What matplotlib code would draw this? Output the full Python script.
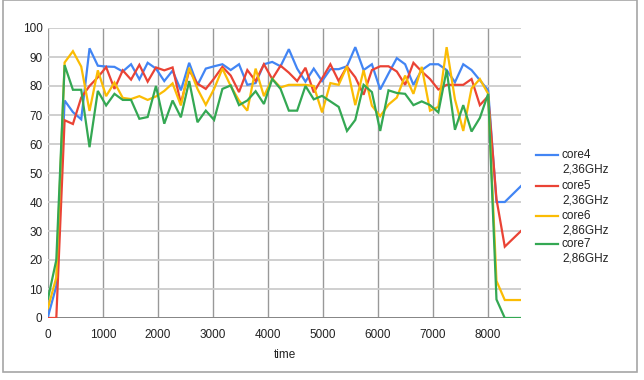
import matplotlib
matplotlib.use('Agg')
import matplotlib.pyplot as plt
from matplotlib.lines import Line2D
from matplotlib.patches import Rectangle

plt.rcParams['font.family'] = ['Liberation Sans', 'DejaVu Sans']

# time axis (samples)
time = [0, 151, 302, 453, 604, 755, 906, 1057, 1208, 1359, 1510, 1661, 1812, 1963,
        2114, 2265, 2416, 2567, 2718, 2869, 3020, 3171, 3322, 3473, 3624, 3775, 3926,
        4077, 4228, 4379, 4530, 4681, 4832, 4983, 5134, 5285, 5436, 5587, 5738, 5889,
        6040, 6191, 6342, 6493, 6644, 6795, 6946, 7097, 7248, 7399, 7550, 7701, 7852,
        8003, 8154, 8305, 8600]

core4 = [0.5, 11, 75, 71, 68.5, 93, 87, 86.7, 86.6, 85, 87.5, 82.3, 88, 86, 81.7,
         85.3, 78.5, 88, 80.3, 86, 86.8, 87.5, 85.5, 87.5, 80.4, 81, 87.5, 88.3, 86.8,
         92.7, 86, 81.5, 86, 81.7, 85.8, 85.8, 86.8, 93.4, 85.5, 87.5, 78.8, 84.3, 89.6,
         87.5, 80.4, 85.5, 87.5, 87.5, 85.5, 81.3, 87.5, 85.5, 82, 78.5, 40, 40, 45.5]
core5 = [0, 0, 68.2, 66.9, 76, 80, 83, 86.5, 79, 85.4, 82.2, 87.3, 81.5, 86.4, 85.4,
         86.4, 74, 85.4, 80.8, 79, 82.6, 86.6, 83.6, 77.9, 85.5, 81.7, 87.5, 82.4, 87,
         84.6, 81.7, 86.3, 77.8, 82.6, 87.5, 81.7, 86.7, 83, 77, 85.5, 86.8, 86.8, 85,
         80.4, 88, 85, 82.4, 78.8, 80.4, 80.4, 80.4, 82.4, 73.4, 76.5, 41, 24.6, 30]
core6 = [3.5, 14, 88.1, 92, 86.7, 71.4, 85.4, 76.5, 81.2, 75.9, 75.5, 76.5, 75.2, 76.4,
         78.3, 80.9, 73.3, 86.3, 79, 73.5, 79, 86, 80, 75, 71.5, 86, 76.5, 82.5, 79.5,
         80.4, 80.4, 80.4, 80, 70.9, 81, 80.4, 86.8, 73.4, 85.5, 73.2, 69.6, 73.6, 76,
         83.6, 77.3, 86.6, 71.5, 72.8, 93.4, 75.4, 64.5, 79.2, 82.4, 77.3, 12.8, 6.2, 6.2]
core7 = [6.7, 20, 87.2, 78.7, 78.7, 58.9, 78.3, 73.3, 77.3, 75.2, 75.2, 68.7, 69.3, 80,
         67, 75, 69.2, 81.7, 67.5, 71.5, 68.3, 79, 80.2, 73.4, 75, 78.2, 73.8, 82.4, 79,
         71.5, 71.5, 80, 75.4, 76.6, 74.7, 72.8, 64.5, 68.3, 80.4, 77.9, 64.5, 78.5, 77.6,
         77.3, 73.4, 74.7, 73.4, 70.9, 85.5, 64.9, 73.4, 64.3, 69, 77.3, 6.4, 0, 0]

series = [core4, core5, core6, core7]
labels = ['core4\n2,36GHz', 'core5\n2,36GHz', 'core6\n2,86GHz', 'core7\n2,86GHz']
colors = ['#4285F4', '#EA4335', '#FBBC04', '#34A853']

W, H = 644, 380
fig = plt.figure(figsize=(W / 100, H / 100), dpi=100)

# outer frame
fig.add_artist(Rectangle((3 / W, 1 - 372 / H), 634 / W, 372 / H, transform=fig.transFigure,
                         fill=False, ec='#a6a6a6', lw=1.2))

ax = fig.add_axes([48 / W, 1 - 318 / H, (521 - 48) / W, (318 - 28) / H])

for s, c in zip(series, colors):
    ax.plot(time, s, color=c, lw=1.6, solid_joinstyle='miter', zorder=3)

ax.set_xlim(0, time[-1])
ax.set_ylim(0, 100)
ax.set_yticks(range(0, 101, 10))
ax.set_xticks(range(0, 8001, 1000))
ax.grid(axis='y', color='#cccccc', lw=1.3, zorder=0)
ax.grid(axis='x', color='#999999', lw=1.0, zorder=0)
ax.axhline(0, color='#808080', lw=1.3, zorder=2)
for sp in ax.spines.values():
    sp.set_visible(False)
ax.tick_params(length=0, labelsize=8.5, colors='#222222')
ax.tick_params(axis='y', pad=4)
ax.tick_params(axis='x', pad=8)
ax.set_xlabel('time', fontsize=8.5, color='#222222', labelpad=6)

# legend, drawn by hand so the line sits on the first text line
ly = [155, 186, 216, 244]
for y, lab, c in zip(ly, labels, colors):
    fig.add_artist(Line2D([536 / W, 558 / W], [1 - y / H, 1 - y / H], color=c, lw=1.6,
                          transform=fig.transFigure))
    fig.text(562 / W, 1 - (y - 6) / H, lab, fontsize=8.5, color='#222222', va='top',
             ha='left', linespacing=1.25)

fig.savefig('out.png', dpi=100)
